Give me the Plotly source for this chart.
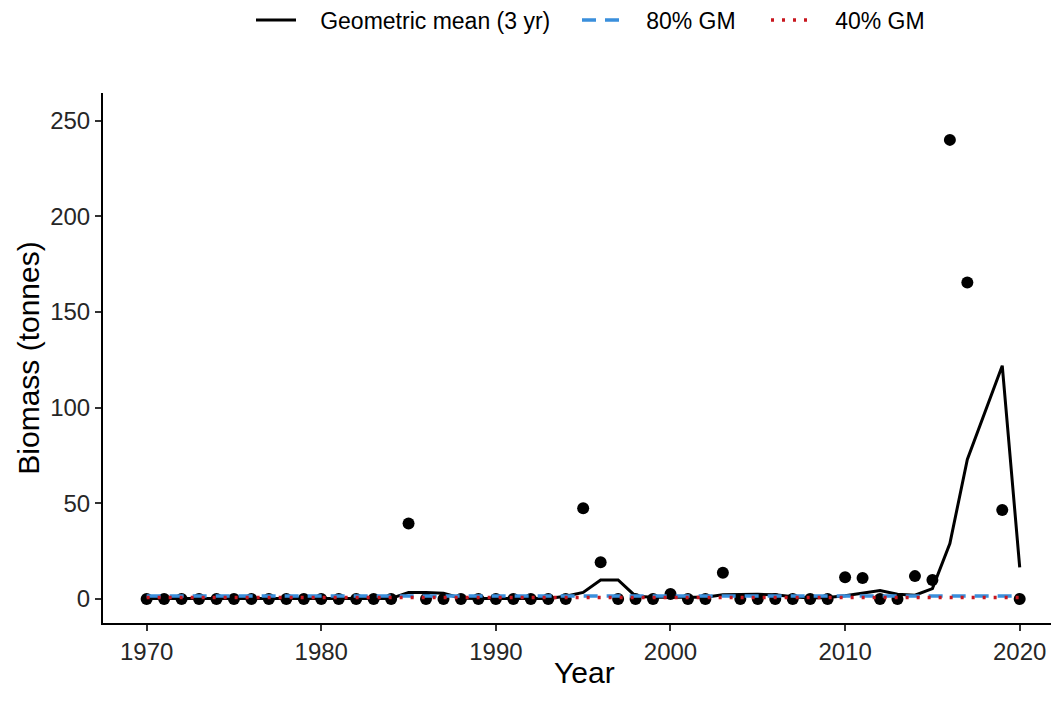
import plotly.graph_objects as go

# ---- data ----
years = list(range(1970, 2021))

biomass = [
    0, 0, 0, 0, 0, 0, 0, 0, 0, 0,          # 1970-1979
    0, 0, 0, 0, 0, 39.5, 0, 0, 0, 0,       # 1980-1989
    0, 0, 0, 0, 0, 47.5, 19.3, 0, 0, 0,    # 1990-1999
    2.6, 0, 0, 13.8, 0, 0, 0, 0, 0, 0,     # 2000-2009
    11.4, 11.0, 0, 0, 12.0, 10.0, 240.0, 165.5, None, 46.5,  # 2010-2019
    0,                                      # 2020
]

geo_mean = [
    0.3, 0.3, 0.3, 0.3, 0.3, 0.3, 0.3, 0.3, 0.3, 0.3,   # 1970-1979
    0.3, 0.3, 0.3, 0.3, 0.3, 3.5, 3.5, 3.0, 0.5, 0.3,   # 1980-1989
    0.3, 0.3, 0.3, 0.3, 1.5, 3.5, 10.0, 10.0, 1.5, 0.9, # 1990-1999
    0.9, 0.9, 1.0, 2.3, 2.5, 2.5, 2.3, 1.2, 0.6, 0.8,   # 2000-2009
    1.8, 3.0, 4.5, 2.5, 2.0, 5.5, 29.0, 73.0, 97.0, 122.0,  # 2010-2019
    16.6,                                                # 2020
]

gm80 = [1.6] * len(years)
gm40 = [0.8] * len(years)

series_names = ["Geometric mean (3 yr)", "80% GM", "40% GM"]

x_ticks = [1970, 1980, 1990, 2000, 2010, 2020]
y_ticks = [0, 50, 100, 150, 200, 250]

x_title = "Year"
y_title = "Biomass (tonnes)"

FONT = "Liberation Sans, Arial, sans-serif"
PAD = "\u00a0\u00a0\u00a0"  # gap between legend key and label

fig = go.Figure()

fig.add_trace(go.Scatter(
    x=years, y=biomass, mode="markers",
    marker=dict(size=12, color="black"),
    showlegend=False, hoverinfo="x+y",
))
fig.add_trace(go.Scatter(
    x=years, y=geo_mean, mode="lines", name=PAD + series_names[0],
    line=dict(color="black", width=3), legend="legend",
))
fig.add_trace(go.Scatter(
    x=years, y=gm80, mode="lines", name=PAD + series_names[1],
    line=dict(color="#3A8FDC", width=3.5, dash="14px,9px"), legend="legend2",
))
fig.add_trace(go.Scatter(
    x=years, y=gm40, mode="lines", name=PAD + series_names[2],
    line=dict(color="#C8161E", width=3.5, dash="3px,8px"), legend="legend3",
))

W, H = 1051, 694  # page body has an 8px margin; figure sized to fill the window


def leg(xpx, itemw):
    return dict(
        orientation="h",
        xref="container", yref="container",
        x=xpx / W, y=1 - 12 / H, xanchor="left", yanchor="middle",
        itemwidth=itemw,
        font=dict(size=23, family=FONT, color="black"),
        bgcolor="rgba(0,0,0,0)",
    )


fig.update_layout(
    template="none",
    width=W, height=H,
    margin=dict(l=95, r=0, t=85, b=79),
    plot_bgcolor="white", paper_bgcolor="white",
    font=dict(family=FONT, color="black"),
    showlegend=True,
    legend=leg(243, 40),
    legend2=leg(569, 40),
    legend3=leg(758, 40),
    xaxis=dict(
        range=[1967.5, 2022.25], automargin=False,
        tickmode="array", tickvals=x_ticks, ticktext=[str(v) for v in x_ticks],
        showgrid=False, zeroline=False,
        showline=True, linecolor="black", linewidth=2,
        ticks="outside", ticklen=6, tickwidth=1.5, tickcolor="#333333",
        tickfont=dict(size=24, color="#262626"),
    ),
    yaxis=dict(
        range=[-12.5, 264.5], automargin=False,
        tickmode="array", tickvals=y_ticks, ticktext=[str(v) for v in y_ticks],
        showgrid=False, zeroline=False,
        showline=True, linecolor="black", linewidth=2,
        ticks="outside", ticklen=6, tickwidth=1.5, tickcolor="#333333",
        tickfont=dict(size=24, color="#262626"),
        title=dict(text=y_title, font=dict(size=30, color="black"), standoff=2),
    ),
    annotations=[dict(
        text=x_title, xref="paper", yref="paper",
        x=0.504, y=-0.0925, xanchor="center", yanchor="middle",
        showarrow=False, font=dict(size=30, family=FONT, color="black"),
    )],
)

fig.write_html("out.html")
